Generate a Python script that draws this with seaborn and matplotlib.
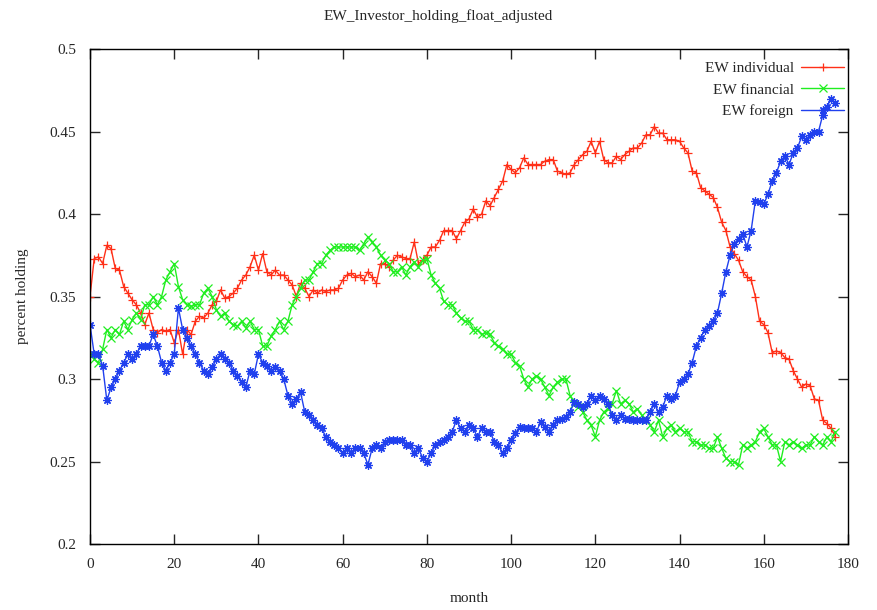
import numpy as np
import pandas as pd
import seaborn as sns
import matplotlib.pyplot as plt

# Monthly equal-weighted holdings
individual = [
    0.350, 0.373, 0.374, 0.370, 0.381, 0.379, 0.367, 0.366, 0.356, 0.352,
    0.348, 0.345, 0.340, 0.333, 0.340, 0.330, 0.328, 0.330, 0.329, 0.330,
    0.322, 0.330, 0.315, 0.330, 0.327, 0.335, 0.338, 0.337, 0.340, 0.345,
    0.347, 0.354, 0.349, 0.350, 0.352, 0.355, 0.360, 0.363, 0.368, 0.375,
    0.366, 0.376, 0.365, 0.363, 0.366, 0.363, 0.363, 0.360, 0.357, 0.350,
    0.358, 0.355, 0.350, 0.354, 0.352, 0.354, 0.353, 0.354, 0.354, 0.355,
    0.360, 0.363, 0.364, 0.362, 0.363, 0.360, 0.365, 0.362, 0.358, 0.370,
    0.370, 0.368, 0.372, 0.375, 0.374, 0.373, 0.373, 0.383, 0.370, 0.372,
    0.375, 0.380, 0.380, 0.384, 0.390, 0.390, 0.390, 0.385, 0.390, 0.395,
    0.397, 0.403, 0.398, 0.400, 0.408, 0.405, 0.410, 0.415, 0.420, 0.430,
    0.427, 0.425, 0.428, 0.434, 0.430, 0.430, 0.430, 0.430, 0.432, 0.433,
    0.433, 0.426, 0.425, 0.424, 0.425, 0.430, 0.433, 0.436, 0.438, 0.444,
    0.437, 0.444, 0.433, 0.431, 0.431, 0.435, 0.433, 0.436, 0.438, 0.440,
    0.440, 0.443, 0.448, 0.448, 0.453, 0.449, 0.449, 0.445, 0.445, 0.445,
    0.444, 0.440, 0.437, 0.426, 0.425, 0.416, 0.414, 0.412, 0.410, 0.404,
    0.395, 0.390, 0.380, 0.376, 0.372, 0.365, 0.362, 0.360, 0.350, 0.335,
    0.333, 0.328, 0.316, 0.317, 0.316, 0.313, 0.312, 0.305, 0.300, 0.295,
    0.297, 0.296, 0.288, 0.287, 0.275, 0.273, 0.270, 0.265,
]
financial = [
    0.315, 0.312, 0.310, 0.318, 0.330, 0.325, 0.330, 0.327, 0.335, 0.330,
    0.336, 0.340, 0.336, 0.345, 0.345, 0.350, 0.345, 0.350, 0.360, 0.365,
    0.370, 0.356, 0.348, 0.345, 0.344, 0.345, 0.345, 0.352, 0.355, 0.350,
    0.342, 0.338, 0.340, 0.335, 0.333, 0.332, 0.335, 0.331, 0.335, 0.330,
    0.330, 0.320, 0.320, 0.326, 0.330, 0.335, 0.330, 0.335, 0.345, 0.350,
    0.355, 0.360, 0.360, 0.365, 0.370, 0.370, 0.375, 0.378, 0.380, 0.380,
    0.380, 0.380, 0.380, 0.380, 0.378, 0.382, 0.386, 0.383, 0.380, 0.375,
    0.372, 0.370, 0.365, 0.365, 0.368, 0.363, 0.368, 0.371, 0.368, 0.372,
    0.373, 0.363, 0.358, 0.355, 0.347, 0.345, 0.345, 0.340, 0.337, 0.335,
    0.335, 0.330, 0.330, 0.327, 0.328, 0.327, 0.322, 0.320, 0.318, 0.315,
    0.315, 0.310, 0.308, 0.300, 0.295, 0.300, 0.302, 0.300, 0.295, 0.290,
    0.295, 0.298, 0.300, 0.300, 0.290, 0.285, 0.283, 0.280, 0.275, 0.272,
    0.265, 0.275, 0.280, 0.282, 0.285, 0.293, 0.285, 0.287, 0.285, 0.280,
    0.282, 0.278, 0.275, 0.272, 0.268, 0.275, 0.265, 0.270, 0.272, 0.268,
    0.270, 0.268, 0.268, 0.262, 0.262, 0.260, 0.260, 0.258, 0.258, 0.265,
    0.258, 0.252, 0.250, 0.250, 0.248, 0.260, 0.258, 0.260, 0.262, 0.268,
    0.270, 0.265, 0.260, 0.260, 0.250, 0.262, 0.260, 0.262, 0.260, 0.258,
    0.260, 0.260, 0.265, 0.262, 0.260, 0.265, 0.262, 0.268,
]
foreign = [
    0.333, 0.315, 0.315, 0.308, 0.287, 0.295, 0.300, 0.305, 0.310, 0.315,
    0.312, 0.315, 0.320, 0.320, 0.320, 0.327, 0.320, 0.310, 0.305, 0.310,
    0.315, 0.343, 0.330, 0.325, 0.320, 0.315, 0.310, 0.305, 0.303, 0.307,
    0.312, 0.315, 0.312, 0.310, 0.305, 0.302, 0.298, 0.295, 0.305, 0.303,
    0.315, 0.310, 0.308, 0.305, 0.307, 0.305, 0.300, 0.290, 0.285, 0.288,
    0.292, 0.280, 0.278, 0.275, 0.272, 0.270, 0.265, 0.262, 0.260, 0.258,
    0.255, 0.258, 0.255, 0.258, 0.258, 0.255, 0.248, 0.258, 0.260, 0.258,
    0.262, 0.263, 0.263, 0.263, 0.263, 0.260, 0.260, 0.255, 0.258, 0.252,
    0.250, 0.255, 0.260, 0.262, 0.263, 0.265, 0.268, 0.275, 0.270, 0.268,
    0.272, 0.270, 0.265, 0.270, 0.268, 0.268, 0.262, 0.260, 0.255, 0.258,
    0.263, 0.267, 0.271, 0.270, 0.270, 0.270, 0.268, 0.274, 0.271, 0.268,
    0.272, 0.275, 0.276, 0.277, 0.280, 0.286, 0.285, 0.283, 0.285, 0.290,
    0.287, 0.290, 0.288, 0.285, 0.278, 0.275, 0.278, 0.276, 0.276, 0.275,
    0.275, 0.275, 0.275, 0.280, 0.285, 0.280, 0.283, 0.290, 0.288, 0.290,
    0.298, 0.300, 0.303, 0.310, 0.320, 0.325, 0.330, 0.332, 0.335, 0.340,
    0.352, 0.365, 0.375, 0.382, 0.385, 0.388, 0.380, 0.390, 0.408, 0.407,
    0.406, 0.412, 0.420, 0.425, 0.432, 0.435, 0.430, 0.437, 0.440, 0.447,
    0.445, 0.448, 0.450, 0.450, 0.460, 0.465, 0.470, 0.467,
]
labels = ["EW individual", "EW financial", "EW foreign"]
colors = ["#ff3018", "#20ee20", "#2040ee"]
markers = ["+", "x", (8, 2, 0)]

sns.set_style("ticks")
plt.rcParams["font.family"] = ["Liberation Serif", "DejaVu Serif"]

fig = plt.figure(figsize=(8.77, 6.1), dpi=100)
ax = fig.add_axes([90 / 877, 66 / 610, 758 / 877, 495 / 610])

for series, label, color, marker in zip([individual, financial, foreign], labels, colors, markers):
    df = pd.DataFrame({"month": np.arange(len(series)), "value": series})
    sns.lineplot(data=df, x="month", y="value", ax=ax, color=color, marker=marker,
                 markersize=6, markeredgewidth=0.9, markeredgecolor=color,
                 linewidth=1.0, label=label)

ax.set_xlim(0, 180)
ax.set_ylim(0.2, 0.5)
ax.set_xticks(range(0, 181, 20))
yt = [0.2, 0.25, 0.3, 0.35, 0.4, 0.45, 0.5]
ax.set_yticks(yt)
ax.set_yticklabels([f"{v:g}" for v in yt])
ax.tick_params(direction="in", top=True, right=True, length=7, labelsize=11, width=1)
ax.tick_params(axis="x", pad=10)
ax.tick_params(axis="y", pad=10)
for s in ax.spines.values():
    s.set_linewidth(1.0)
    s.set_color("black")
ax.set_xlabel("month", fontsize=11, labelpad=15)
ax.set_ylabel("percent holding", fontsize=11, labelpad=15)
fig.suptitle("EW_Investor_holding_float_adjusted", fontsize=11, y=0.985)

ax.legend(loc="upper right", bbox_to_anchor=(1.005, 0.99), frameon=False,
          markerfirst=False, fontsize=11, handlelength=2.8, handletextpad=0.5,
          borderaxespad=0.0, borderpad=0.5, labelspacing=0.5)

plt.savefig("out.png", dpi=100)
